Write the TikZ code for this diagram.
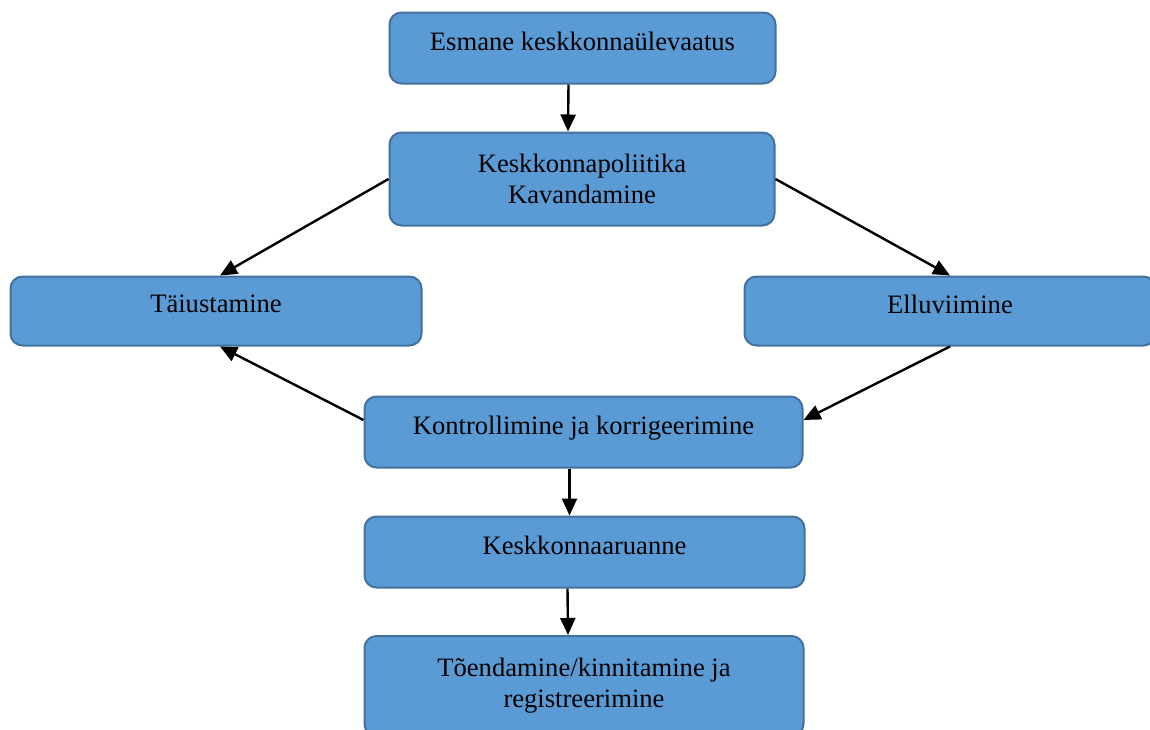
\documentclass[tikz,border=0pt]{standalone}
\usepackage{fontspec}
\setmainfont{Liberation Serif}
\usetikzlibrary{arrows.meta}
\definecolor{boxfill}{HTML}{5B9BD5}
\definecolor{boxline}{HTML}{41719C}
\tikzset{
  box/.style={draw=boxline, fill=boxfill, line width=2pt, rounded corners=12pt,
    inner sep=0pt, align=center, font=\fontsize{26.6}{31}\selectfont},
  oneline/.style={box, text depth=14pt},
  arr/.style={line width=2.4pt, -{Triangle[length=17pt,width=15pt]}}
}
\begin{document}
\begin{tikzpicture}[x=1pt,y=-1pt]
        \useasboundingbox (0,0) rectangle (1150,729);
        \clip (0,0) rectangle (1150,729);
        % Boxes
        \node[oneline, minimum width=386pt, minimum height=71pt] (esm) at (582.5,48) {Esmane keskkonnaülevaatus};
        \node[box, minimum width=385pt, minimum height=93pt] (pol) at (582,179) {Keskkonnapoliitika\\ Kavandamine};
        \node[oneline, minimum width=411pt, minimum height=69pt] (tai) at (216,311) {Täiustamine};
        \node[oneline, minimum width=411pt, minimum height=69pt] (ell) at (950,311) {Elluviimine};
        \node[oneline, minimum width=438pt, minimum height=71pt] (kon) at (583.5,432) {Kontrollimine ja korrigeerimine};
        \node[oneline, minimum width=440pt, minimum height=71pt] (aru) at (584.5,552) {Keskkonnaaruanne};
        \node[box, minimum width=439pt, minimum height=100pt] (toe) at (584,686) {Tõendamine/kinnitamine ja\\ registreerimine};
        % Arrows
        \draw[arr] ([xshift=-14pt]esm.south) -- ([xshift=-14pt]pol.north);
        \draw[arr] (pol.west) -- ([xshift=4pt]tai.north);
        \draw[arr] (pol.east) -- (ell.north);
        \draw[arr] (ell.south) -- ([yshift=12pt]kon.east);
        \draw[arr] ([yshift=12pt]kon.west) -- ([xshift=4pt]tai.south);
        \draw[arr] ([xshift=-14pt]kon.south) -- ([xshift=-15pt]aru.north);
        \draw[arr] ([xshift=-17pt]aru.south) -- ([xshift=-16pt]toe.north);
    \end{tikzpicture}
\end{document}
